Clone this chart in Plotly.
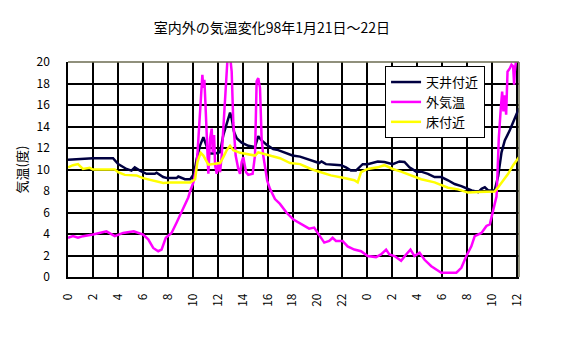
import plotly.graph_objects as go

# hours since 0:00 on Jan 21 (24 = 0:00 Jan 22)
ceiling_h = [0.0, 0.94, 2.0, 3.61, 3.75, 4.02, 4.69, 5.09, 5.35, 5.76, 6.29, 6.96, 7.1, 7.63, 7.95, 8.7, 8.84, 9.37, 9.8,
             10.1, 10.32, 10.59, 10.85, 11.07, 11.33, 11.79, 12.19, 12.45, 12.72, 12.99, 13.12, 13.31, 13.52, 13.92,
             14.45, 14.99, 15.25, 15.52, 15.92, 16.45, 16.85, 17.54, 17.99, 18.6, 19.2, 19.73, 20.13, 20.32, 20.67,
             21.34, 21.88, 22.28, 22.68, 23.08, 23.62, 24.02, 24.42, 24.83, 25.36, 26.03, 26.57, 26.97, 27.37, 27.91,
             28.31, 28.85, 29.38, 29.92, 30.46, 30.99, 31.53, 32.06, 32.35, 32.88, 33.15, 33.41, 33.68, 34.2, 34.48,
             34.75, 35.01, 35.41, 35.81, 36.15]
ceiling_t = [10.9, 11.0, 11.05, 11.05, 10.85, 10.5, 10.05, 9.9, 10.2, 9.9, 9.6, 9.6, 9.7, 9.3, 9.2, 9.2, 9.35, 9.1, 9.1,
             9.6, 11.0, 12.25, 13.0, 12.25, 11.5, 11.5, 11.6, 13.2, 14.3, 15.3, 14.75, 13.5, 12.9, 12.5,
             12.2, 12.1, 13.1, 12.7, 12.3, 11.9, 11.8, 11.5, 11.3, 11.2, 10.95, 10.75, 10.6, 10.75, 10.5,
             10.45, 10.4, 10.2, 9.9, 9.9, 10.5, 10.5, 10.6, 10.75, 10.7, 10.5, 10.75, 10.7, 10.2, 9.8,
             9.8, 9.6, 9.3, 9.3, 9.0, 8.65, 8.45, 8.2, 8.05, 7.9, 8.2, 8.35, 8.05, 8.05, 9.4,
             11.6, 12.7, 13.65, 14.75, 15.7]

outside_h = [0.0, 0.4, 0.8, 1.2, 2.0, 3.08, 3.75, 4.42, 5.27, 6.02, 6.43, 6.83, 7.23, 7.5, 7.84, 8.3, 8.7, 9.24, 9.64,
             9.8, 10.05, 10.32, 10.53, 10.69, 10.77, 10.85, 10.93, 11.01, 11.12, 11.25, 11.39, 11.52, 11.6, 11.71,
             11.79, 11.92, 12.05, 12.19, 12.32, 12.45, 12.59, 12.72, 12.8, 12.99, 13.12, 13.25, 13.44, 13.65, 13.79,
             13.92, 14.05, 14.27, 14.45, 14.8, 14.99, 15.12, 15.25, 15.39, 15.52, 15.65, 15.79, 15.97, 16.19, 16.59,
             16.99, 17.54, 18.07, 18.6, 19.06, 19.33, 19.73, 20.13, 20.54, 20.94, 21.21, 21.48, 22.01, 22.41, 22.95,
             23.49, 24.02, 24.69, 25.09, 25.5, 25.76, 26.17, 26.7, 27.1, 27.45, 27.77, 28.18, 28.58, 29.12, 29.92,
             30.46, 31.13, 31.53, 31.93, 32.33, 32.6, 33.14, 33.54, 33.81, 33.99, 34.21, 34.35, 34.43, 34.53, 34.69,
             34.8, 34.9, 35.01, 35.12, 35.23, 35.41, 35.55, 35.68, 35.76, 35.81, 35.89, 36.0]
outside_t = [3.65, 3.8, 3.65, 3.8, 3.95, 4.25, 3.8, 4.1, 4.25, 3.95, 3.5, 2.7, 2.4, 2.55, 3.65, 4.1, 5.05, 6.45, 7.4,
             8.0, 8.8, 10.4, 14.4, 17.9, 18.8, 17.6, 18.35, 16.3, 12.25, 9.6, 12.9, 13.8, 11.6, 13.2,
             10.4, 9.6, 10.7, 9.75, 11.3, 13.8, 16.6, 18.8, 20.6, 20.6, 19.1, 14.4, 11.3, 10.05, 9.6,
             10.7, 11.15, 9.75, 9.5, 9.6, 11.3, 18.2, 18.5, 17.6, 12.9, 11.3, 10.05, 8.95, 8.2, 7.25,
             6.8, 5.95, 5.35, 5.0, 4.75, 4.5, 4.6, 3.95, 3.2, 3.35, 3.65, 3.35, 3.35, 2.85, 2.55,
             2.4, 1.95, 1.85, 2.1, 2.55, 2.1, 1.95, 1.5, 2.1, 2.55, 1.95, 2.25, 1.6, 1.0, 0.4,
             0.4, 0.4, 0.85, 1.95, 2.85, 3.8, 4.1, 4.75, 4.9, 5.7, 6.95, 7.5, 9.75, 12.9, 15.7,
             17.25, 15.4, 16.9, 15.1, 19.1, 19.4, 19.75, 19.6, 17.9, 19.1, 20.6, 21.0]

floor_h = [0.0, 0.4, 0.8, 1.2, 1.74, 2.0, 3.75, 4.02, 4.55, 5.49, 6.02, 6.83, 7.63, 8.17, 8.97, 9.5, 9.8, 10.19, 10.37,
           10.64, 10.85, 11.25, 11.79, 12.19, 12.45, 12.72, 12.99, 13.25, 13.79, 14.45, 14.99, 15.25, 15.65, 16.32,
           16.99, 17.8, 18.6, 19.47, 20.27, 21.07, 22.14, 22.95, 23.22, 23.49, 24.02, 24.83, 25.36, 26.03, 26.7,
           27.5, 28.31, 29.38, 30.46, 31.26, 32.06, 32.87, 34.2, 34.48, 34.88, 35.28, 35.68, 36.15]
floor_t = [10.2, 10.4, 10.5, 10.05, 10.15, 10.0, 10.0, 9.75, 9.5, 9.45, 9.2, 9.0, 8.75, 8.8, 8.8, 8.75, 8.8, 9.1, 10.7,
           11.55, 11.3, 10.45, 10.5, 10.6, 11.15, 11.8, 12.2, 11.8, 11.55, 11.4, 11.3, 11.6, 11.45, 11.25,
           11.05, 10.6, 10.5, 10.05, 9.75, 9.45, 9.2, 9.0, 8.8, 9.75, 10.05, 10.2, 10.4, 10.05, 9.8,
           9.45, 9.1, 8.8, 8.3, 8.15, 7.85, 7.9, 7.95, 8.35, 9.0, 9.6, 10.4, 11.15]

tick_pos = list(range(0, 37, 2))
tick_text = ["0", "2", "4", "6", "8", "10", "12", "14", "16", "18", "20", "22",
             "0", "2", "4", "6", "8", "10", "12"]

names = ["天井付近", "外気温", "床付近"]
colors = ["#000040", "#FF00FF", "#FFFF00"]

FONT = "Noto Sans CJK JP"

fig = go.Figure()
for nm, xs, ys, c in [(names[0], ceiling_h, ceiling_t, colors[0]),
                      (names[1], outside_h, outside_t, colors[1]),
                      (names[2], floor_h, floor_t, colors[2])]:
    fig.add_trace(go.Scatter(x=xs, y=ys, mode="lines", name=nm,
                             line=dict(color=c, width=2.5)))

fig.update_layout(
    width=563, height=337,
    margin=dict(l=68, r=44, t=62, b=60),
    paper_bgcolor="white", plot_bgcolor="white",
    font=dict(family=FONT, size=12, color="black"),
    title=dict(text="室内外の気温変化98年1月21日～22日", x=0.483, xanchor="center",
               y=0.918, yanchor="middle", font=dict(size=14, family=FONT, color="black")),
    showlegend=True,
    legend=dict(x=0.703, y=0.981, xanchor="left", yanchor="top",
                bgcolor="white", bordercolor="black", borderwidth=1,
                font=dict(size=13, family=FONT), itemwidth=30,
                tracegroupgap=0),
)
fig.update_xaxes(range=[0, 36.15], tickvals=tick_pos, ticktext=tick_text, tickangle=-90,
                 showgrid=True, gridcolor="black", gridwidth=1.5,
                 showline=True, linecolor="black", linewidth=1.5,
                 ticks="", ticklabelstandoff=10, zeroline=False,
                 tickfont=dict(size=12, family=FONT))
fig.update_yaxes(range=[0, 20], tickvals=list(range(0, 21, 2)),
                 showgrid=True, gridcolor="black", gridwidth=1.5,
                 showline=True, linecolor="black", linewidth=1.5,
                 ticks="", ticklabelstandoff=14, zeroline=False,
                 title=dict(text="気温(度)", font=dict(size=13, family=FONT), standoff=6),
                 tickfont=dict(size=12, family=FONT))
fig.add_shape(type="line", xref="paper", yref="paper", x0=0, x1=1, y0=1, y1=1,
              line=dict(color="#6b6b50", width=1.5))
fig.add_shape(type="line", xref="paper", yref="paper", x0=1, x1=1, y0=0, y1=1,
              line=dict(color="#6b6b50", width=1.5))

fig.write_html("out.html")
